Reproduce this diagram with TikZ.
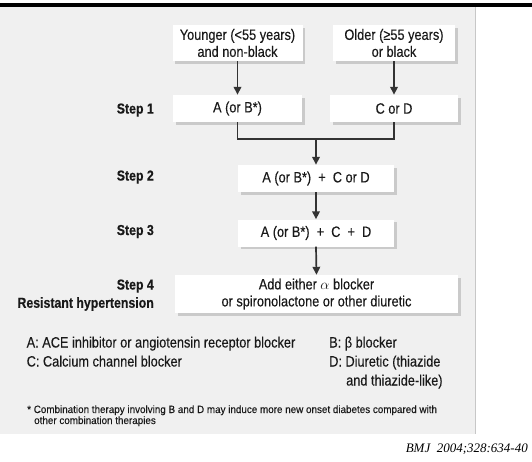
\documentclass[tikz,border=0pt]{standalone}
\usepackage{fontspec}
\setmainfont[FakeStretch=0.85,FakeBold=0.25]{Liberation Sans}
\newfontfamily\footfont[FakeStretch=0.93,FakeBold=0.2]{Liberation Sans}
\newfontfamily\bmjfont{Liberation Serif}
\usetikzlibrary{arrows.meta,shadows}
\begin{document}
\begin{tikzpicture}[x=1pt,y=-1pt,
  box/.style={fill=white, inner sep=0pt, align=center, text=black!90,
    font=\fontsize{15}{17}\selectfont,
    drop shadow={shadow xshift=2.5pt, shadow yshift=-2.5pt, fill=black!35, opacity=0.5}},
  lab/.style={anchor=east, inner sep=0pt, text=black!90, font=\bfseries\fontsize{14.5}{16}\selectfont},
  leg/.style={anchor=base west, inner sep=0pt, text=black!90, font=\fontsize{15}{17}\selectfont},
  foot/.style={anchor=base west, inner sep=0pt, text=black!90, font=\footfont\fontsize{10.6}{11}\selectfont},
  conn/.style={draw=black!80, line width=1.7pt},
  arr/.style={conn, -{Triangle[length=8pt,width=7.5pt]}}]
\useasboundingbox (0,0) rectangle (532,461);
\fill[black!6] (0,7) rectangle (475,434);
\draw[black!22, line width=1pt] (475,7) -- (475,434);
\fill[black] (0,3) rectangle (532,7);

\node[box, minimum width=130pt, minimum height=36pt] (Y) at (237.5,43) {Younger (<55 years)\\and non-black};
\node[box, minimum width=122pt, minimum height=36pt] (O) at (394,43) {Older (≥55 years)\\or black};
\node[box, minimum width=129pt, minimum height=27pt] (A) at (237.5,108.5) {A (or B*)};
\node[box, minimum width=128pt, minimum height=27pt] (C) at (394,108.5) {C or D};
\node[box, minimum width=156pt, minimum height=27pt] (S2) at (316,178.5) {A (or B*)\ \ +\ \ C or D};
\node[box, minimum width=156pt, minimum height=27pt] (S3) at (316,233) {A (or B*)\ \ +\ \ C\ \ +\ \ D};
\node[box, minimum width=283pt, minimum height=38pt] (S4) at (316.5,294) {Add either $\alpha$ blocker\\or spironolactone or other diuretic};

\node[lab] (L1) at (154,110) {Step 1};
\node[lab] (L2) at (154,177) {Step 2};
\node[lab] (L3) at (154,231.5) {Step 3};
\node[lab] (L4) at (154,286) {Step 4};
\node[lab] (L5) at (154,304) {Resistant hypertension};

\draw[arr] (Y.south) -- (A.north);
\draw[arr] (O.south) -- (C.north);
\coordinate (J) at (316,139);
\draw[conn] (A.south) |- (J) -| (C.south);
\draw[arr] (J) -- (S2.north);
\draw[arr] (S2.south) -- (S3.north);
\draw[arr] (S3.south) -- (S4.north);

\node[leg] (LA) at (26.5,347.5) {A: ACE inhibitor or angiotensin receptor blocker};
\node[leg] (LC) at (26.5,366.5) {C: Calcium channel blocker};
\node[leg] (LB) at (329,347.5) {B: β blocker};
\node[leg] (LD) at (329,366.5) {D: Diuretic (thiazide};
\node[leg] (LD2) at (346,385.5) {and thiazide-like)};

\node[foot] (F1) at (27,413) {* Combination therapy involving B and D may induce more new onset diabetes compared with};
\node[foot] (F2) at (34,424) {other combination therapies};

\node[anchor=base east, inner sep=0pt, font=\bmjfont\itshape\fontsize{13}{15}\selectfont] (BMJ) at (528,452) {BMJ\ \ 2004;328:634-40};
\end{tikzpicture}
\end{document}
